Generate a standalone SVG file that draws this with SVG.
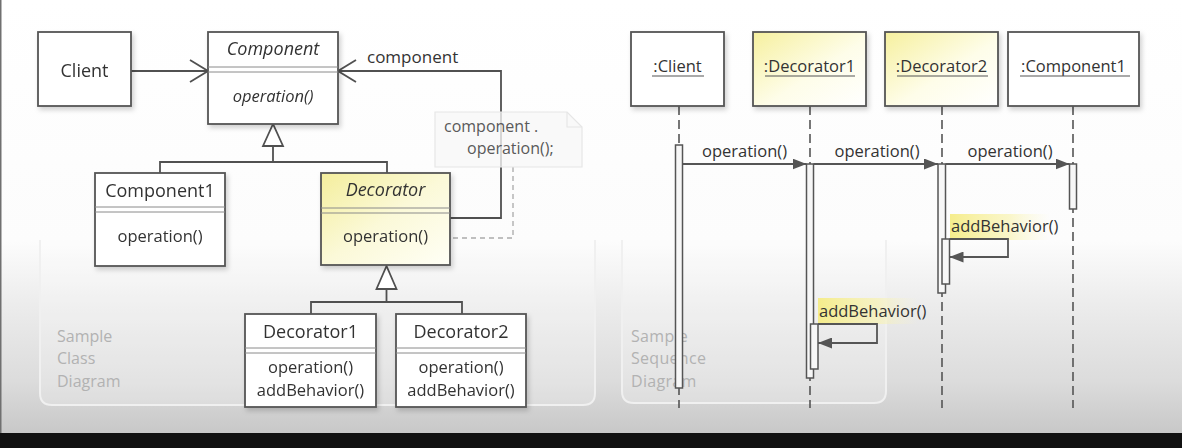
<svg xmlns="http://www.w3.org/2000/svg" width="1182" height="448" viewBox="0 0 1182 448">
<defs>
<style>
.t{font-family:"Open Sans","Noto Sans","DejaVu Sans",sans-serif;fill:#333}
.ti{font-size:18px}
.op{font-size:16.5px}
.it{font-style:italic}
.box{fill:#fff;stroke:#555;stroke-width:1.8}
.sep{stroke:#8a8a8a;stroke-width:1}
.ln{fill:none;stroke:#505050;stroke-width:1.8}
.life{fill:none;stroke:#555;stroke-width:1.6;stroke-dasharray:9 5}
.act{fill:#f7f7f7;stroke:#555;stroke-width:1.5}
.msg{fill:none;stroke:#555;stroke-width:1.8}
.ul{stroke:#555;stroke-width:1.2}
.lbl{font-family:"Open Sans","Noto Sans",sans-serif;font-size:16px;fill:#b2b2b2}
.panel{fill:#ffffff;fill-opacity:0.22;stroke:#f0f0f0;stroke-width:2}
</style>
<linearGradient id="bg" x1="0" y1="0" x2="0" y2="1">
<stop offset="0" stop-color="#ffffff"/>
<stop offset="0.54" stop-color="#fcfcfc"/>
<stop offset="0.68" stop-color="#ececec"/>
<stop offset="0.85" stop-color="#dcdcdc"/>
<stop offset="0.96" stop-color="#c9c9c9"/>
<stop offset="1" stop-color="#c4c4c4"/>
</linearGradient>
<linearGradient id="yel" x1="0" y1="0" x2="1" y2="1">
<stop offset="0" stop-color="#f4ee9c"/>
<stop offset="0.5" stop-color="#fbf9d8"/>
<stop offset="1" stop-color="#fffff6"/>
</linearGradient>
<linearGradient id="yel2" x1="0" y1="0" x2="1" y2="1">
<stop offset="0" stop-color="#f6f09e"/>
<stop offset="0.55" stop-color="#fefde9"/>
<stop offset="1" stop-color="#ffffff"/>
</linearGradient>
<linearGradient id="hl" x1="0" y1="0" x2="1" y2="0">
<stop offset="0" stop-color="#f5ec86" stop-opacity="0.95"/>
<stop offset="0.6" stop-color="#f8f2a8" stop-opacity="0.6"/>
<stop offset="1" stop-color="#fbf7c8" stop-opacity="0"/>
</linearGradient>
<filter id="sh" x="-10%" y="-10%" width="130%" height="130%">
<feDropShadow dx="2" dy="3" stdDeviation="2.5" flood-color="#000" flood-opacity="0.18"/>
</filter>
<marker id="open" viewBox="0 0 20 24" refX="19" refY="12" markerWidth="20" markerHeight="24" markerUnits="userSpaceOnUse" orient="auto">
<path d="M1,1 L19,12 L1,23" fill="none" stroke="#505050" stroke-width="1.8"/>
</marker>
<marker id="fill" viewBox="0 0 14 11" refX="14" refY="5.5" markerWidth="14" markerHeight="11" markerUnits="userSpaceOnUse" orient="auto">
<path d="M0,0 L14,5.5 L0,11 z" fill="#555"/>
</marker>
</defs>

<rect x="0" y="0" width="1182" height="448" fill="url(#bg)"/>
<rect x="0" y="0" width="1.5" height="448" fill="#707070"/>
<path class="panel" d="M40,240 V393 Q40,405 52,405 H583 Q595,405 595,393 V240"/>
<path class="panel" d="M622,240 V391 Q622,403 634,403 H874 Q886,403 886,391 V240"/>
<rect x="0" y="433" width="1182" height="15" fill="#111"/>

<g id="class-label">
<text class="lbl" x="57" y="342">Sample</text>
<text class="lbl" x="57" y="364">Class</text>
<text class="lbl" x="57" y="387">Diagram</text>
</g>
<g id="seq-label">
<text class="lbl" x="631" y="342" letter-spacing="0.3">Sample</text>
<text class="lbl" x="631" y="364" letter-spacing="0.3">Sequence</text>
<text class="lbl" x="631" y="387" letter-spacing="0.3">Diagram</text>
</g>

<g id="connectors">
<line class="ln" x1="131" y1="71" x2="208" y2="71" marker-end="url(#open)"/>
<path class="ln" d="M450,218 H501 V71 H338" marker-end="url(#open)"/>
<path d="M513,167 V238 H432" fill="none" stroke="#aaa" stroke-width="1.3" stroke-dasharray="5 4"/>
<path class="ln" d="M273,146 V162 M160,173 V162 H387 V173"/>
<polygon points="273,124 263,146 283,146" fill="#fff" stroke="#505050" stroke-width="1.8"/>
<path class="ln" d="M386.5,289 V302 M311,314 V302 H462 V314"/>
<polygon points="386.5,266 376.5,289 396.5,289" fill="#fff" stroke="#505050" stroke-width="1.8"/>
</g>

<g id="note">
<path d="M435,112 H567 L582,127 V167 H435 Z" fill="#f7f7f7" fill-opacity="0.78" stroke="#e6e6e6" stroke-width="1.2"/>
<path d="M567,112 V127 H582" fill="none" stroke="#e6e6e6" stroke-width="1.2"/>
<text class="t" x="444" y="132" font-size="16" style="fill:#5a5a5a">component .</text>
<text class="t" x="467" y="154" font-size="16" style="fill:#5a5a5a">operation();</text>
</g>
<text class="t" x="367" y="63" font-size="17">component</text>

<g id="client" filter="url(#sh)">
<rect class="box" x="38" y="32" width="93" height="74"/>
<text class="t ti" x="84.5" y="77" text-anchor="middle">Client</text>
</g>

<g id="component" filter="url(#sh)">
<rect class="box" x="208" y="32" width="130" height="92"/>
<line class="sep" x1="208" y1="67" x2="338" y2="67"/>
<line class="sep" x1="208" y1="72" x2="338" y2="72"/>
<text class="t ti it" x="273" y="55" text-anchor="middle">Component</text>
<text class="t op it" x="273" y="102" text-anchor="middle">operation()</text>
</g>

<g id="component1" filter="url(#sh)">
<rect class="box" x="95" y="173" width="130" height="93"/>
<line class="sep" x1="95" y1="207" x2="225" y2="207"/>
<line class="sep" x1="95" y1="212" x2="225" y2="212"/>
<text class="t ti" x="160" y="197" text-anchor="middle">Component1</text>
<text class="t op" x="160" y="242" text-anchor="middle">operation()</text>
</g>

<g id="decorator" filter="url(#sh)">
<rect class="box" x="321" y="173" width="129" height="92" style="fill:url(#yel)"/>
<line class="sep" x1="321" y1="208" x2="450" y2="208"/>
<line class="sep" x1="321" y1="213" x2="450" y2="213"/>
<text class="t ti it" x="385.5" y="196" text-anchor="middle">Decorator</text>
<text class="t op" x="385.5" y="242" text-anchor="middle">operation()</text>
</g>

<g id="decorator1" filter="url(#sh)">
<rect class="box" x="245" y="314" width="131" height="93"/>
<line class="sep" x1="245" y1="348" x2="376" y2="348"/>
<line class="sep" x1="245" y1="353" x2="376" y2="353"/>
<text class="t ti" x="310.5" y="338" text-anchor="middle">Decorator1</text>
<text class="t op" x="310.5" y="373" text-anchor="middle">operation()</text>
<text class="t op" x="310.5" y="396" text-anchor="middle">addBehavior()</text>
</g>

<g id="decorator2" filter="url(#sh)">
<rect class="box" x="396" y="314" width="130" height="93"/>
<line class="sep" x1="396" y1="348" x2="526" y2="348"/>
<line class="sep" x1="396" y1="353" x2="526" y2="353"/>
<text class="t ti" x="461" y="338" text-anchor="middle">Decorator2</text>
<text class="t op" x="461" y="373" text-anchor="middle">operation()</text>
<text class="t op" x="461" y="396" text-anchor="middle">addBehavior()</text>
</g>

<g id="seq-client">
<line class="life" x1="679" y1="106" x2="679" y2="408"/>
<rect class="box" x="631" y="32" width="93" height="74" filter="url(#sh)"/>
<text class="t op" x="677.5" y="72" text-anchor="middle">:Client</text>
<line class="ul" x1="652" y1="76" x2="704" y2="76"/>
<rect class="act" x="675.5" y="145" width="7" height="243"/>
</g>

<g id="seq-decorator1">
<line class="life" x1="810" y1="106" x2="810" y2="408"/>
<rect class="box" x="753" y="32" width="113" height="74" style="fill:url(#yel2)" filter="url(#sh)"/>
<text class="t op" x="809.5" y="72" text-anchor="middle">:Decorator1</text>
<line class="ul" x1="765" y1="76" x2="855" y2="76"/>
<rect class="act" x="806.5" y="164" width="7" height="214"/>
<rect class="act" x="810.5" y="324" width="7.5" height="45"/>
</g>

<g id="seq-decorator2">
<line class="life" x1="942" y1="106" x2="942" y2="408"/>
<rect class="box" x="885" y="32" width="113" height="74" style="fill:url(#yel2)" filter="url(#sh)"/>
<text class="t op" x="941.5" y="72" text-anchor="middle">:Decorator2</text>
<line class="ul" x1="897" y1="76" x2="988" y2="76"/>
<rect class="act" x="938" y="164" width="7.5" height="129"/>
<rect class="act" x="942" y="239" width="7.5" height="45"/>
</g>

<g id="seq-component1">
<line class="life" x1="1073" y1="106" x2="1073" y2="408"/>
<rect class="box" x="1008" y="32" width="131" height="74" filter="url(#sh)"/>
<text class="t op" x="1073.5" y="72" text-anchor="middle">:Component1</text>
<line class="ul" x1="1020" y1="76" x2="1130" y2="76"/>
<rect class="act" x="1069.5" y="164" width="7" height="45"/>
</g>

<g id="messages">
<line class="msg" x1="682.5" y1="164" x2="806.5" y2="164" marker-end="url(#fill)"/>
<text class="t op" x="744.5" y="157" text-anchor="middle">operation()</text>
<line class="msg" x1="813.5" y1="164" x2="938" y2="164" marker-end="url(#fill)"/>
<text class="t op" x="877" y="157" text-anchor="middle">operation()</text>
<line class="msg" x1="945.5" y1="164" x2="1069.5" y2="164" marker-end="url(#fill)"/>
<text class="t op" x="1010" y="157" text-anchor="middle">operation()</text>
<rect x="950" y="214" width="100" height="26" fill="url(#hl)"/>
<text class="t op" x="951" y="232">addBehavior()</text>
<path class="msg" d="M949.5,239 H1008 V257 H949.5" marker-end="url(#fill)"/>
<rect x="818" y="298" width="100" height="26" fill="url(#hl)"/>
<text class="t op" x="819" y="317">addBehavior()</text>
<path class="msg" d="M818,324 H877 V343 H818" marker-end="url(#fill)"/>
</g>
</svg>
